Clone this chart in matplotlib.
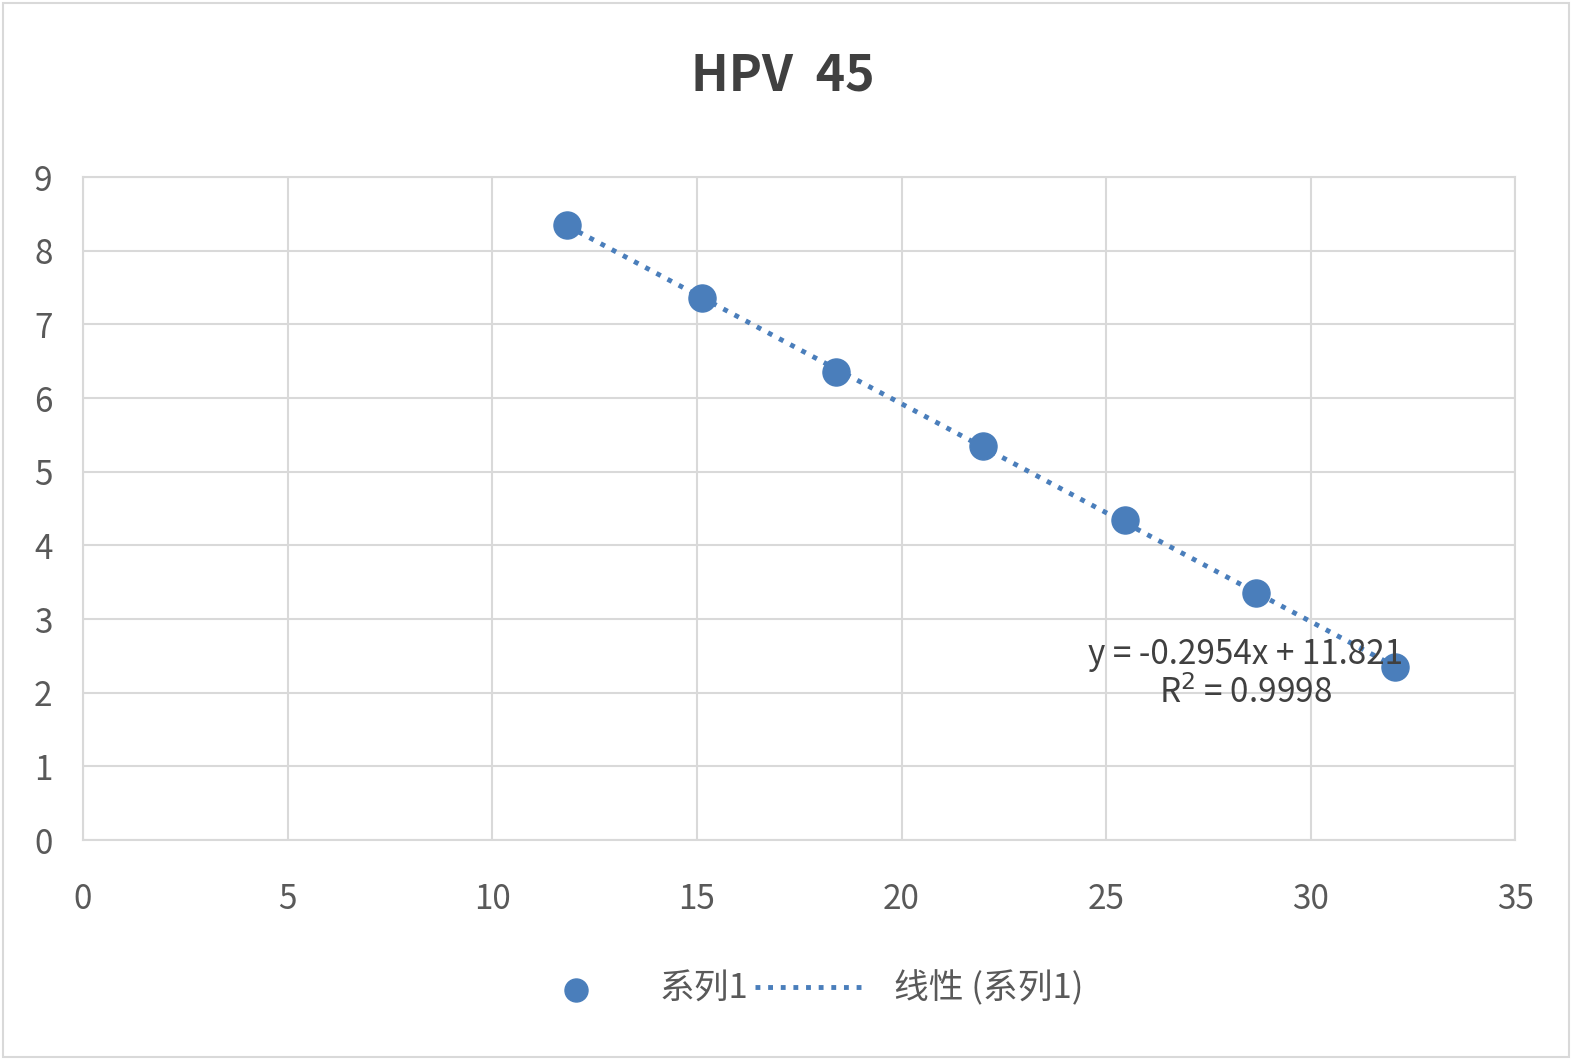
import matplotlib
matplotlib.use('Agg')
import matplotlib.pyplot as plt
import numpy as np
from matplotlib.patches import Rectangle

plt.rcParams['font.family'] = ['Noto Sans CJK SC', 'DejaVu Sans']

x = np.array([11.83, 15.13, 18.41, 22.0, 25.45, 28.67, 32.05])
y = np.array([8.35, 7.36, 6.35, 5.35, 4.34, 3.35, 2.35])
title = 'HPV  45'
series_name = '系列1'
trend_name = '线性 (系列1)'
eq_text = 'y = -0.2954x + 11.821\nR$^2$ = 0.9998'

blue = '#4a7ebb'
fig = plt.figure(figsize=(15.72, 10.6), dpi=100)
fig.patches.append(Rectangle((0.002, 0.003), 0.996, 0.994, transform=fig.transFigure,
                             fill=False, edgecolor='#d9d9d9', linewidth=1.5))
ax = fig.add_axes([0.0528, 0.2075, 0.9112, 0.6255])

slope, icpt = np.polyfit(x, y, 1)
xt = np.array([x.min(), x.max()])
ax.plot(xt, slope * xt + icpt, linestyle=(0, (1, 1.6)), color=blue, linewidth=3.5,
        label=trend_name, zorder=2)
ax.scatter(x, y, s=380, color=blue, label=series_name, zorder=3)

ax.set_xlim(0, 35)
ax.set_ylim(0, 9)
ax.set_xticks(np.arange(0, 36, 5))
ax.set_yticks(np.arange(0, 10, 1))
ax.grid(True, color='#d9d9d9', linewidth=1.5)
for s in ax.spines.values():
    s.set_color('#d9d9d9')
    s.set_linewidth(1.5)
ax.tick_params(length=0, labelsize=24, labelcolor='#595959')
ax.tick_params(axis='x', pad=30)
ax.tick_params(axis='y', pad=22)
ax.set_axisbelow(True)

ax.text(28.4, 1.75, eq_text, fontsize=24, color='#404040', ha='center', va='bottom',
        linespacing=1.15)
fig.text(0.498, 0.928, title, fontsize=36, fontweight='bold', color='#404040',
         ha='center', va='center')

h, l = ax.get_legend_handles_labels()
fig.legend(h[::-1], l[::-1], loc='center', bbox_to_anchor=(0.51, 0.067), ncol=2,
           frameon=False, fontsize=25, labelcolor='#595959', handlelength=3.2,
           columnspacing=0.2, markerscale=0.85)

fig.savefig('out.png', dpi=100)
